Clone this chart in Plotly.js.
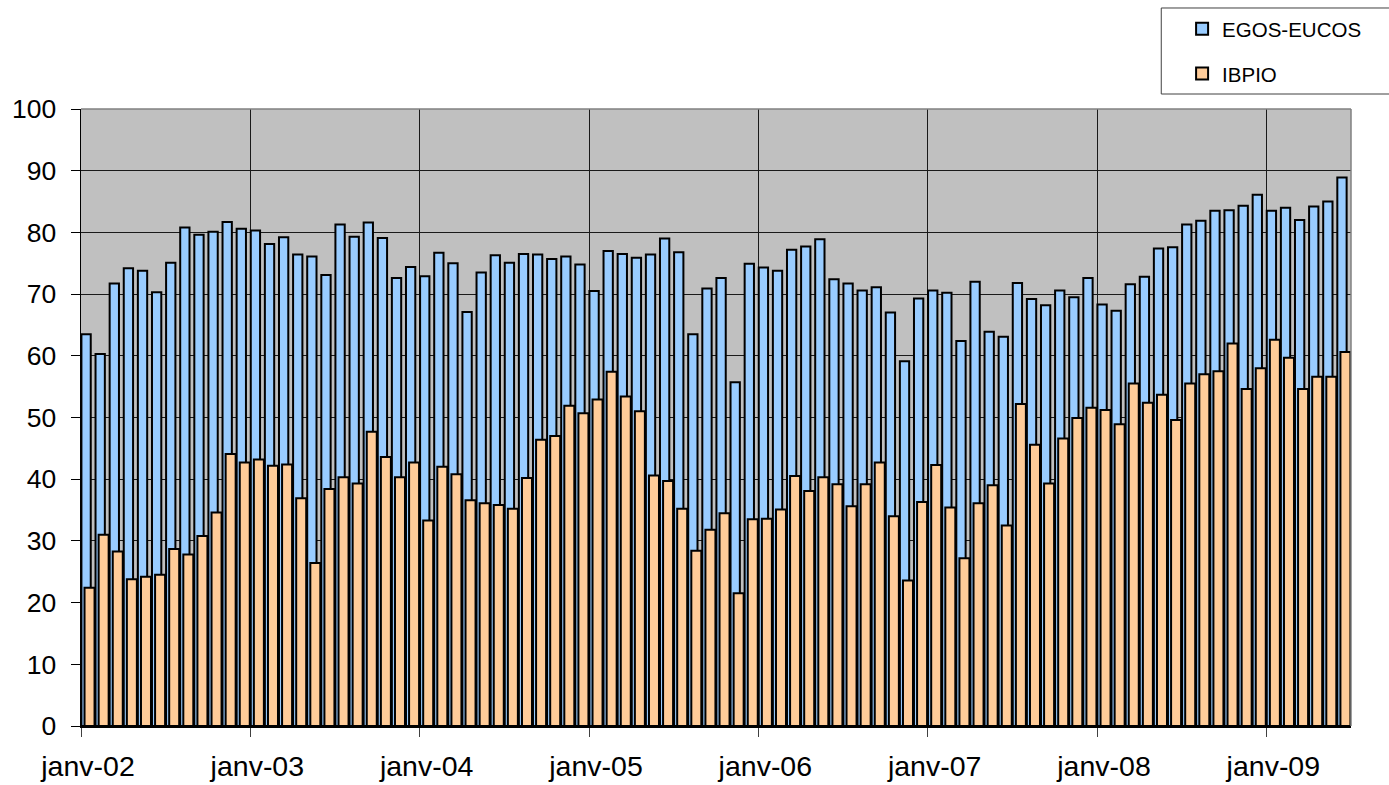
<!DOCTYPE html>
<html>
<head>
<meta charset="utf-8">
<script src="https://cdn.plot.ly/plotly-3.0.1.min.js"></script>
<style>
html,body{margin:0;padding:0;background:#ffffff;}
#chart{width:1389px;height:785px;}
</style>
</head>
<body>
<div id="chart"></div>
<script>
// Categories: monthly, janv-2002 .. juin-2009
const years = [2002, 2003, 2004, 2005, 2006, 2007, 2008, 2009];
const monthNums = ['01','02','03','04','05','06','07','08','09','10','11','12'];

// Series values
const egosEucos = [
  63.5, 60.3, 71.7, 74.2, 73.8, 70.3, 75.1, 80.8, 79.6, 80.1, 81.7, 80.6,
  80.3, 78.1, 79.2, 76.4, 76.1, 73.1, 81.3, 79.3, 81.6, 79.1, 72.6, 74.4,
  72.9, 76.7, 75.0, 67.1, 73.5, 76.3, 75.1, 76.5, 76.4, 75.7, 76.1, 74.8,
  70.5, 77.0, 76.5, 75.9, 76.4, 79.0, 76.8, 63.5, 70.9, 72.6, 55.7, 74.9,
  74.3, 73.8, 77.2, 77.7, 78.9, 72.4, 71.7, 70.6, 71.1, 67.0, 59.1, 69.3,
  70.6, 70.2, 62.4, 72.0, 63.9, 63.1, 71.8, 69.2, 68.2, 70.6, 69.5, 72.6,
  68.3, 67.3, 71.6, 72.8, 77.4, 77.6, 81.3, 81.9, 83.5, 83.6, 84.3, 86.1,
  83.5, 84.0, 82.0, 84.2, 85.0, 88.9
];
const ibpio = [
  22.4, 31.0, 28.3, 23.8, 24.2, 24.5, 28.7, 27.8, 30.8, 34.6, 44.1, 42.7,
  43.2, 42.2, 42.4, 36.9, 26.4, 38.4, 40.3, 39.3, 47.7, 43.6, 40.3, 42.7,
  33.3, 42.0, 40.8, 36.6, 36.1, 35.8, 35.2, 40.2, 46.4, 47.0, 51.9, 50.7,
  52.9, 57.4, 53.4, 51.0, 40.6, 39.7, 35.2, 28.4, 31.8, 34.5, 21.5, 33.5,
  33.6, 35.1, 40.5, 38.1, 40.3, 39.2, 35.6, 39.2, 42.7, 34.0, 23.6, 36.3,
  42.3, 35.4, 27.2, 36.1, 39.0, 32.5, 52.2, 45.6, 39.3, 46.6, 49.9, 51.6,
  51.2, 48.9, 55.5, 52.4, 53.7, 49.6, 55.5, 57.0, 57.5, 62.0, 54.6, 58.0,
  62.6, 59.7, 54.6, 56.6, 56.6, 60.6
];

// Tick labels
const tickMonths = ['2002-01','2003-01','2004-01','2005-01','2006-01','2007-01','2008-01','2009-01'];
const tickLabels = ['janv-02','janv-03','janv-04','janv-05','janv-06','janv-07','janv-08','janv-09'];

// Build the month category list
const months = [];
years.forEach(function (y) {
  monthNums.forEach(function (m) {
    if (months.length < egosEucos.length) months.push(y + '-' + m);
  });
});
const xIdx = months.map(function (m, i) { return i; });
const tickVals = tickMonths.map(function (m) { return months.indexOf(m); });

const traces = [
  {
    type: 'bar', name: 'EGOS-EUCOS', x: xIdx, y: egosEucos,
    offset: 0.03, width: 0.66,
    marker: {color: '#99CCFF', line: {color: '#000000', width: 2}},
    legendgroup: 'a', hoverinfo: 'skip'
  },
  {
    type: 'bar', name: 'IBPIO', x: xIdx, y: ibpio,
    offset: 0.25, width: 0.71,
    marker: {color: '#FFCC99', line: {color: '#000000', width: 2}},
    legendgroup: 'b', hoverinfo: 'skip'
  }
];

const layout = {
  width: 1389, height: 785,
  margin: {l: 81, r: 38, t: 109, b: 59, pad: 0, autoexpand: false},
  paper_bgcolor: '#ffffff',
  plot_bgcolor: '#C0C0C0',
  font: {family: 'Liberation Sans, Arial, sans-serif', color: '#000000'},
  barmode: 'overlay',
  showlegend: true,
  xaxis: {
    type: 'linear', range: [0, 90],
    tickmode: 'array', tickvals: tickVals, ticktext: tickLabels,
    ticks: 'outside', ticklen: 9, tickwidth: 1, tickcolor: '#404040',
    showgrid: true, gridcolor: '#1a1a1a', gridwidth: 1,
    showline: true, linecolor: '#000000', linewidth: 1.5,
    zeroline: false,
    tickfont: {size: 28.5, color: '#000000'},
    ticklabelshift: 7, ticklabelstandoff: 5,
    fixedrange: true, automargin: false
  },
  yaxis: {
    range: [0, 100], tick0: 0, dtick: 10,
    ticks: 'outside', ticklen: 9, tickwidth: 1, tickcolor: '#000000',
    showgrid: true, gridcolor: '#1a1a1a', gridwidth: 1,
    showline: true, linecolor: '#000000', linewidth: 1.5,
    zeroline: false,
    tickfont: {size: 26.5, color: '#000000'},
    ticklabelstandoff: 9,
    fixedrange: true, automargin: false
  },
  legend: {
    x: 0.867, y: 1.162, xanchor: 'left', yanchor: 'top',
    bgcolor: 'rgba(0,0,0,0)', borderwidth: 0,
    font: {size: 20.5, color: '#000000'},
    traceorder: 'grouped', tracegroupgap: 15
  },
  shapes: [
    {type: 'rect', xref: 'paper', yref: 'paper', x0: 0.8506, x1: 1.2, y0: 1.0243, y1: 1.1637,
     line: {color: '#404040', width: 1}, fillcolor: 'rgba(0,0,0,0)', layer: 'above'},
    {type: 'line', xref: 'paper', yref: 'paper', x0: 0, x1: 1, y0: 1, y1: 1,
     line: {color: '#808080', width: 1.5}, layer: 'above'},
    {type: 'line', xref: 'paper', yref: 'paper', x0: 1, x1: 1, y0: 0, y1: 1,
     line: {color: '#808080', width: 1.5}, layer: 'above'}
  ]
};

Plotly.newPlot('chart', traces, layout, {displayModeBar: false, staticPlot: true});
</script>
</body>
</html>
